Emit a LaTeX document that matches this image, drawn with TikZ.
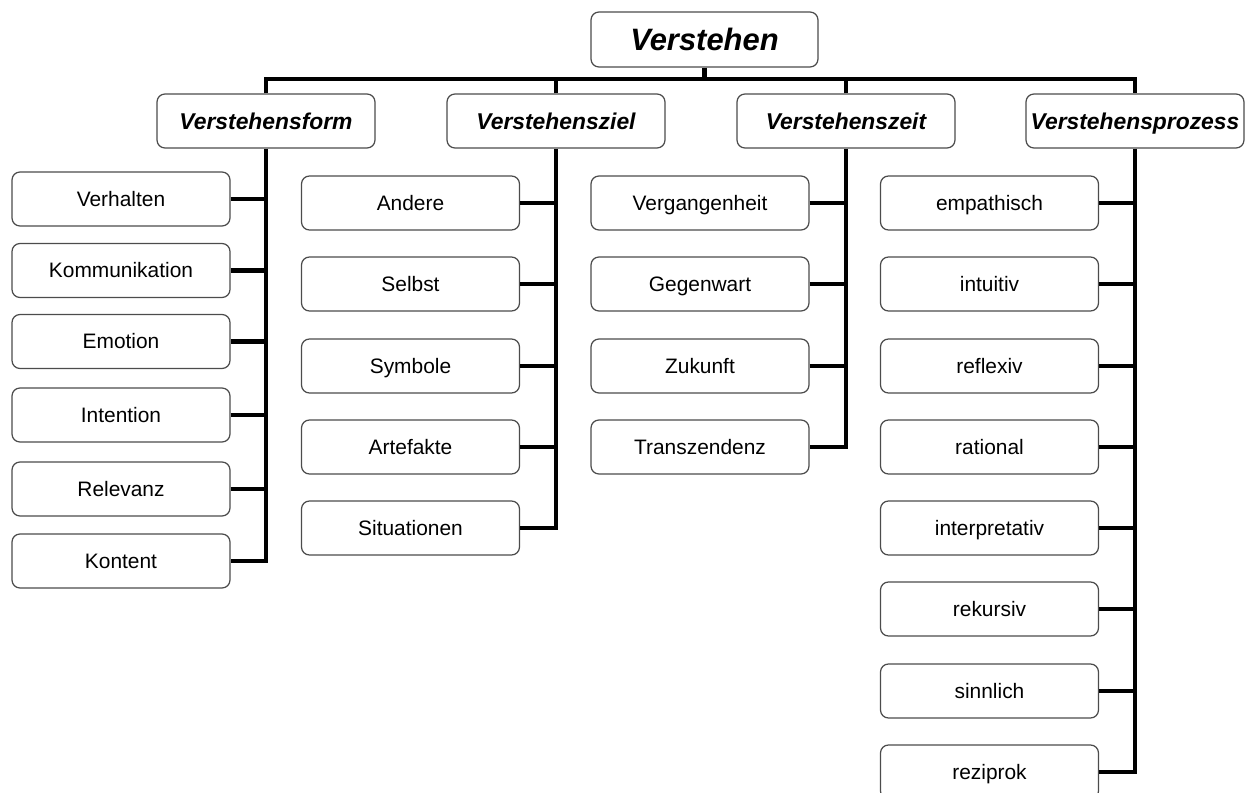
\documentclass[tikz,border=0pt]{standalone}
\usepackage{fontspec}
\setmainfont{Liberation Sans}
\usetikzlibrary{positioning}

\begin{document}
\begin{tikzpicture}[x=0.02cm, y=-0.02cm,
    box/.style={draw=black!70, line width=0.7pt, rounded corners=4.5pt, fill=white,
        minimum width=4.36cm, minimum height=1.08cm, inner sep=0pt,
        text height=8.5pt, text depth=0pt,
        font=\fontsize{11.9}{14}\selectfont},
    catbox/.style={box, text height=9.3pt, font=\fontsize{13}{15}\selectfont\bfseries\itshape},
    rootbox/.style={box, minimum width=4.54cm, minimum height=1.1cm, text height=12.6pt,
        font=\fontsize{17.6}{20}\selectfont\bfseries\itshape},
    link/.style={line width=2.3pt}]
    \useasboundingbox (0,0) rectangle (1247,793);

    \node[rootbox] (verstehen) at (704.5,39.5) {Verstehen};
    \coordinate (bar) at (704.5,79);

    \node[catbox] (form) at (266,121) {Verstehensform};
    \node[catbox] (ziel) at (556,121) {Verstehensziel};
    \node[catbox] (zeit) at (846,121) {Verstehenszeit};
    \node[catbox] (prozess) at (1135,121) {Verstehensprozess};

    \node[box] (verhalten) at (121,199) {Verhalten};
    \node[box] (kommunikation) at (121,270.5) {Kommunikation};
    \node[box] (emotion) at (121,341.5) {Emotion};
    \node[box] (intention) at (121,415) {Intention};
    \node[box] (relevanz) at (121,489) {Relevanz};
    \node[box] (kontent) at (121,561) {Kontent};

    \node[box] (andere) at (410.5,203) {Andere};
    \node[box] (selbst) at (410.5,284) {Selbst};
    \node[box] (symbole) at (410.5,366) {Symbole};
    \node[box] (artefakte) at (410.5,447) {Artefakte};
    \node[box] (situationen) at (410.5,528) {Situationen};

    \node[box] (vergangenheit) at (700,203) {Vergangenheit};
    \node[box] (gegenwart) at (700,284) {Gegenwart};
    \node[box] (zukunft) at (700,366) {Zukunft};
    \node[box] (transzendenz) at (700,447) {Transzendenz};

    \node[box] (empathisch) at (989.5,203) {empathisch};
    \node[box] (intuitiv) at (989.5,284) {intuitiv};
    \node[box] (reflexiv) at (989.5,366) {reflexiv};
    \node[box] (rational) at (989.5,447) {rational};
    \node[box] (interpretativ) at (989.5,528) {interpretativ};
    \node[box] (rekursiv) at (989.5,609) {rekursiv};
    \node[box] (sinnlich) at (989.5,691) {sinnlich};
    \node[box] (reziprok) at (989.5,772) {reziprok};

    \draw[link] (verstehen.south) -- (bar);
    \draw[link] (form.north) |- (prozess.north |- bar) -- (prozess.north);
    \draw[link] (ziel.north) -- (ziel.north |- bar);
    \draw[link] (zeit.north) -- (zeit.north |- bar);

    \draw[link] (form.south) |- (kontent.east);
    \draw[link] (verhalten.east) -- (verhalten.east -| form.south);
    \draw[link] (kommunikation.east) -- (kommunikation.east -| form.south);
    \draw[link] (emotion.east) -- (emotion.east -| form.south);
    \draw[link] (intention.east) -- (intention.east -| form.south);
    \draw[link] (relevanz.east) -- (relevanz.east -| form.south);

    \draw[link] (ziel.south) |- (situationen.east);
    \draw[link] (andere.east) -- (andere.east -| ziel.south);
    \draw[link] (selbst.east) -- (selbst.east -| ziel.south);
    \draw[link] (symbole.east) -- (symbole.east -| ziel.south);
    \draw[link] (artefakte.east) -- (artefakte.east -| ziel.south);

    \draw[link] (zeit.south) |- (transzendenz.east);
    \draw[link] (vergangenheit.east) -- (vergangenheit.east -| zeit.south);
    \draw[link] (gegenwart.east) -- (gegenwart.east -| zeit.south);
    \draw[link] (zukunft.east) -- (zukunft.east -| zeit.south);

    \draw[link] (prozess.south) |- (reziprok.east);
    \draw[link] (empathisch.east) -- (empathisch.east -| prozess.south);
    \draw[link] (intuitiv.east) -- (intuitiv.east -| prozess.south);
    \draw[link] (reflexiv.east) -- (reflexiv.east -| prozess.south);
    \draw[link] (rational.east) -- (rational.east -| prozess.south);
    \draw[link] (interpretativ.east) -- (interpretativ.east -| prozess.south);
    \draw[link] (rekursiv.east) -- (rekursiv.east -| prozess.south);
    \draw[link] (sinnlich.east) -- (sinnlich.east -| prozess.south);
\end{tikzpicture}
\end{document}
